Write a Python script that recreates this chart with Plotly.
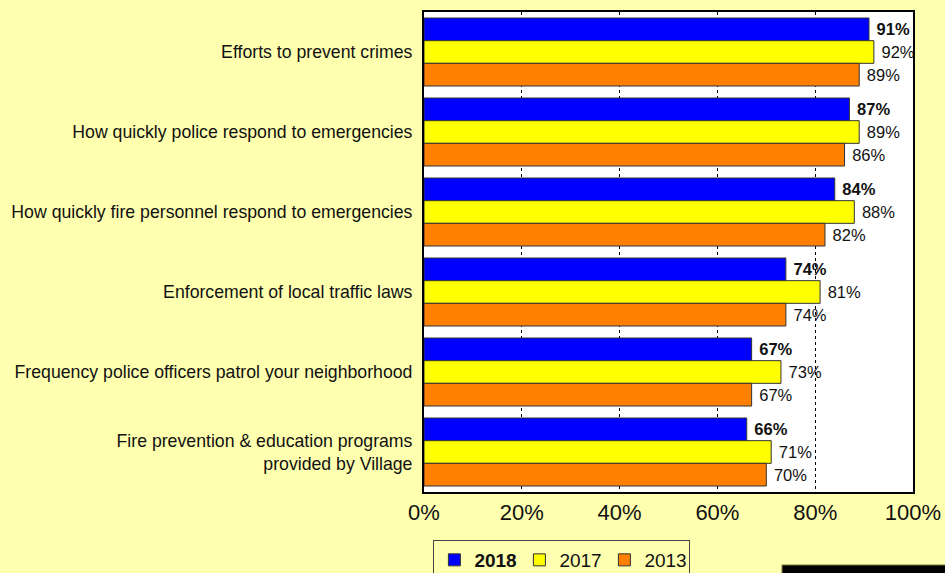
import plotly.graph_objects as go

# Survey items, listed top to bottom
categories = [
    "Efforts to prevent crimes",
    "How quickly police respond to emergencies",
    "How quickly fire personnel respond to emergencies",
    "Enforcement of local traffic laws",
    "Frequency police officers patrol your neighborhood",
    "Fire prevention & education programs<br>provided by Village",
]

# Percent of respondents satisfied, by survey year
values_2018 = [91, 87, 84, 74, 67, 66]
values_2017 = [92, 89, 88, 81, 73, 71]
values_2013 = [89, 86, 82, 74, 67, 70]

x_ticks = [0, 20, 40, 60, 80, 100]

FONT = "Liberation Sans, Arial, sans-serif"
BG = "#FFFFB0"

series = [
    ("<b>2018</b>", values_2018, "#0000FF", True),
    ("2017", values_2017, "#FFFF00", False),
    ("2013", values_2013, "#FF8000", False),
]

fig = go.Figure()
for name, vals, color, bold in series:
    fig.add_trace(go.Bar(
        name=name,
        y=categories,
        x=vals,
        orientation="h",
        marker=dict(color=color, line=dict(color="#333333", width=1)),
        # leading space keeps the value clear of the bar end
        text=[f" <b>{v}%</b>" if bold else f" {v}%" for v in vals],
        textposition="outside",
        textfont=dict(family=FONT, size=16.5, color="#111111"),
        constraintext="none",
        cliponaxis=False,
        hoverinfo="skip",
    ))

fig.update_layout(
    width=945,
    height=573,
    barmode="group",
    bargap=0.15,
    bargroupgap=0,
    paper_bgcolor=BG,
    plot_bgcolor="#FFFFFF",
    margin=dict(l=424, r=32, t=12, b=81, autoexpand=False),
    font=dict(family=FONT, color="#111111"),
    showlegend=True,
    legend=dict(
        orientation="h",
        x=0.282,
        xanchor="center",
        xref="paper",
        y=-0.1,
        yanchor="top",
        yref="paper",
        bgcolor=BG,
        bordercolor="#444444",
        borderwidth=1,
        font=dict(family=FONT, size=19, color="#111111"),
        traceorder="normal",
        itemwidth=30,
        entrywidth=40,
        entrywidthmode="pixels",
        tracegroupgap=0,
    ),
    shapes=[
        dict(
            type="rect",
            xref="paper", yref="paper",
            x0=0.7321, x1=1.08, y0=-0.152, y1=-0.19,
            fillcolor="#000000",
            line=dict(color="#808040", width=1),
            layer="above",
        )
    ],
)

fig.update_xaxes(
    range=[0, 100],
    tickvals=x_ticks,
    ticktext=[f"{t}%" for t in x_ticks],
    showgrid=True,
    gridcolor="#000000",
    gridwidth=1,
    griddash="3px,3px",
    showline=True,
    linecolor="#000000",
    linewidth=2,
    mirror=True,
    ticks="",
    ticklabelstandoff=0,
    tickfont=dict(family=FONT, size=22, color="#111111"),
    zeroline=False,
    fixedrange=True,
)

fig.update_yaxes(
    autorange="reversed",
    showgrid=False,
    showline=True,
    linecolor="#000000",
    linewidth=2,
    mirror=True,
    ticks="",
    ticklabelstandoff=6,
    tickfont=dict(family=FONT, size=17.7, color="#111111"),
    fixedrange=True,
)

fig.write_html("out.html")
